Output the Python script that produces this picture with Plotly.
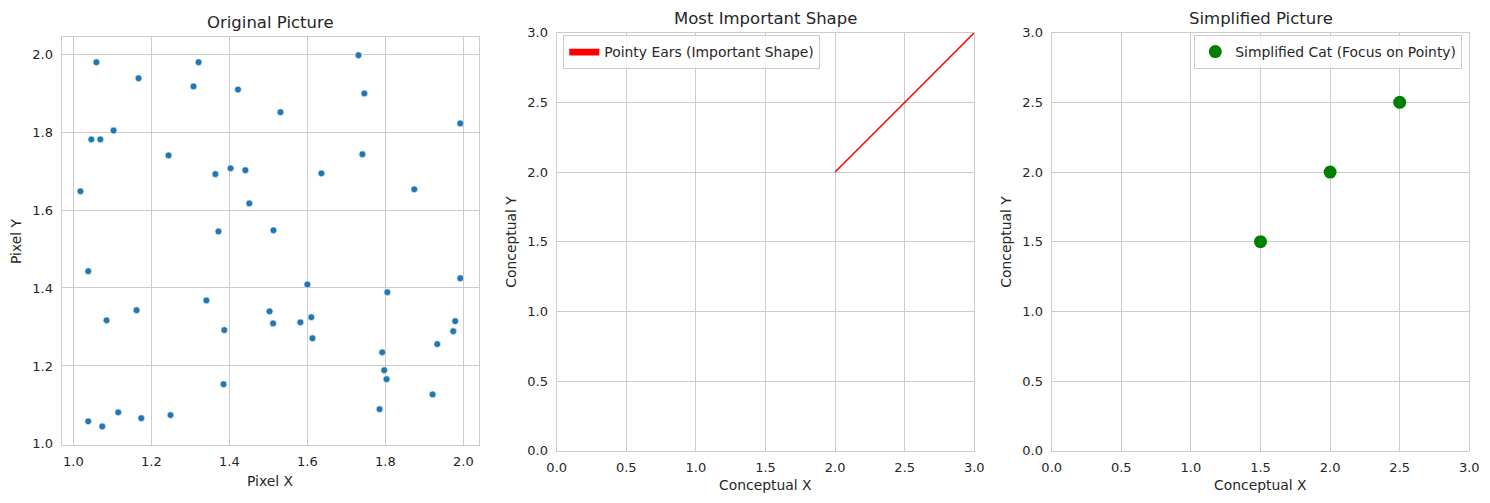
import plotly.graph_objects as go

# ---- data ----
pixel_x = [1.059, 1.167, 1.321, 1.308, 1.422, 1.103, 1.046, 1.069, 1.244, 1.403,
           1.364, 1.441, 1.018, 1.451, 1.372, 1.513, 1.731, 1.746, 1.531, 1.992,
           1.741, 1.636, 1.874, 1.038, 1.341, 1.085, 1.162, 1.387, 1.503, 1.512,
           1.385, 1.038, 1.074, 1.115, 1.174, 1.249, 1.600, 1.582, 1.610, 1.613,
           1.805, 1.992, 1.979, 1.974, 1.933, 1.792, 1.797, 1.803, 1.921, 1.785]
pixel_y = [1.979, 1.938, 1.979, 1.917, 1.909, 1.804, 1.781, 1.781, 1.740, 1.707,
           1.692, 1.702, 1.648, 1.617, 1.545, 1.548, 1.997, 1.899, 1.851, 1.822,
           1.743, 1.694, 1.653, 1.443, 1.368, 1.317, 1.343, 1.292, 1.340, 1.309,
           1.153, 1.058, 1.045, 1.081, 1.066, 1.074, 1.409, 1.312, 1.325, 1.271,
           1.389, 1.425, 1.315, 1.289, 1.256, 1.235, 1.189, 1.166, 1.127, 1.089]

ear_x = [2.0, 3.0]
ear_y = [2.0, 3.0]

simple_x = [1.5, 2.0, 2.5]
simple_y = [1.5, 2.0, 2.5]

titles = ["Original Picture", "Most Important Shape", "Simplified Picture"]
xlabels = ["Pixel X", "Conceptual X", "Conceptual X"]
ylabels = ["Pixel Y", "Conceptual Y", "Conceptual Y"]
ticks1 = [1.0, 1.2, 1.4, 1.6, 1.8, 2.0]
ticks2 = [0.0, 0.5, 1.0, 1.5, 2.0, 2.5, 3.0]

# ---- layout geometry (page pixels; the page body has an 8px margin) ----
OFF = 8
W, H = 1490 - OFF, 503 - OFF
FONT = "DejaVu Sans"
TXT = "#262626"
GRID = "#cccccc"


def px(v):
    return (v - OFF) / W


def py(v):
    return 1 - (v - OFF) / H


panels = [
    dict(x0=61.7, x1=479.0, top=37.3, bottom=444.7, xlab_y=481, ylab_x=16),
    dict(x0=556.7, x1=974.3, top=32.7, bottom=450.7, xlab_y=485, ylab_x=511),
    dict(x0=1051.7, x1=1469.3, top=32.7, bottom=450.7, xlab_y=485, ylab_x=1006),
]

fig = go.Figure()

fig.add_trace(go.Scatter(
    x=pixel_x, y=pixel_y, mode="markers", showlegend=False,
    marker=dict(color="#1f77b4", size=6.8, line=dict(color="white", width=0.6)),
    xaxis="x", yaxis="y"))

fig.add_trace(go.Scatter(
    x=ear_x, y=ear_y, mode="lines", fill="toself", fillcolor="red",
    line=dict(color="red", width=1.5), name="Pointy Ears (Important Shape)",
    legend="legend", xaxis="x2", yaxis="y2"))

fig.add_trace(go.Scatter(
    x=simple_x, y=simple_y, mode="markers", name="Simplified Cat (Focus on Pointy)",
    marker=dict(color="green", size=13), legend="legend2",
    xaxis="x3", yaxis="y3"))

ranges = [([0.970, 2.040], [0.998, 2.043]), ([0, 3], [0, 3]), ([0, 3], [0, 3])]
tickvals = [ticks1, ticks2, ticks2]

layout = dict(
    width=W, height=H, margin=dict(l=0, r=0, t=0, b=0, autoexpand=False),
    paper_bgcolor="white", plot_bgcolor="white",
    font=dict(family=FONT, color=TXT, size=13),
    annotations=[],
)

for i, p in enumerate(panels):
    sfx = "" if i == 0 else str(i + 1)
    xd = [px(p["x0"]), px(p["x1"])]
    yd = [py(p["bottom"]), py(p["top"])]
    common = dict(showgrid=True, gridcolor=GRID, gridwidth=1, zeroline=False,
                  showline=True, mirror=True, linecolor=GRID, linewidth=1.2,
                  ticks="outside", ticklen=5, tickcolor="rgba(0,0,0,0)",
                  automargin=False,
                  tickformat=".1f", tickfont=dict(family=FONT, size=13, color=TXT))
    layout["xaxis" + sfx] = dict(domain=xd, range=ranges[i][0], tickvals=tickvals[i],
                                 anchor="y" + sfx, **common)
    layout["yaxis" + sfx] = dict(domain=yd, range=ranges[i][1], tickvals=tickvals[i],
                                 anchor="x" + sfx, **common)
    # title
    layout["annotations"].append(dict(
        text=titles[i], xref="paper", yref="paper",
        x=(xd[0] + xd[1]) / 2, y=yd[1], xanchor="center", yanchor="bottom",
        yshift=3, showarrow=False, font=dict(family=FONT, size=16.5, color=TXT)))
    # x label
    layout["annotations"].append(dict(
        text=xlabels[i], xref="paper", yref="paper",
        x=(xd[0] + xd[1]) / 2, y=py(p["xlab_y"]), xanchor="center", yanchor="middle",
        showarrow=False, font=dict(family=FONT, size=13.9, color=TXT)))
    # y label
    layout["annotations"].append(dict(
        text=ylabels[i], xref="paper", yref="paper", textangle=-90,
        x=px(p["ylab_x"]), y=(yd[0] + yd[1]) / 2, xanchor="center", yanchor="middle",
        showarrow=False, font=dict(family=FONT, size=13.9, color=TXT)))

legend_common = dict(bgcolor="rgba(255,255,255,0.8)", bordercolor=GRID, borderwidth=1,
                     font=dict(family=FONT, size=13.9, color=TXT), yanchor="top")
layout["legend"] = dict(x=px(563.3), y=py(35), xanchor="left", **legend_common)
layout["legend2"] = dict(x=px(1462.3), y=py(35), xanchor="right", **legend_common)

fig.update_layout(**layout)
fig.write_html("out.html")
